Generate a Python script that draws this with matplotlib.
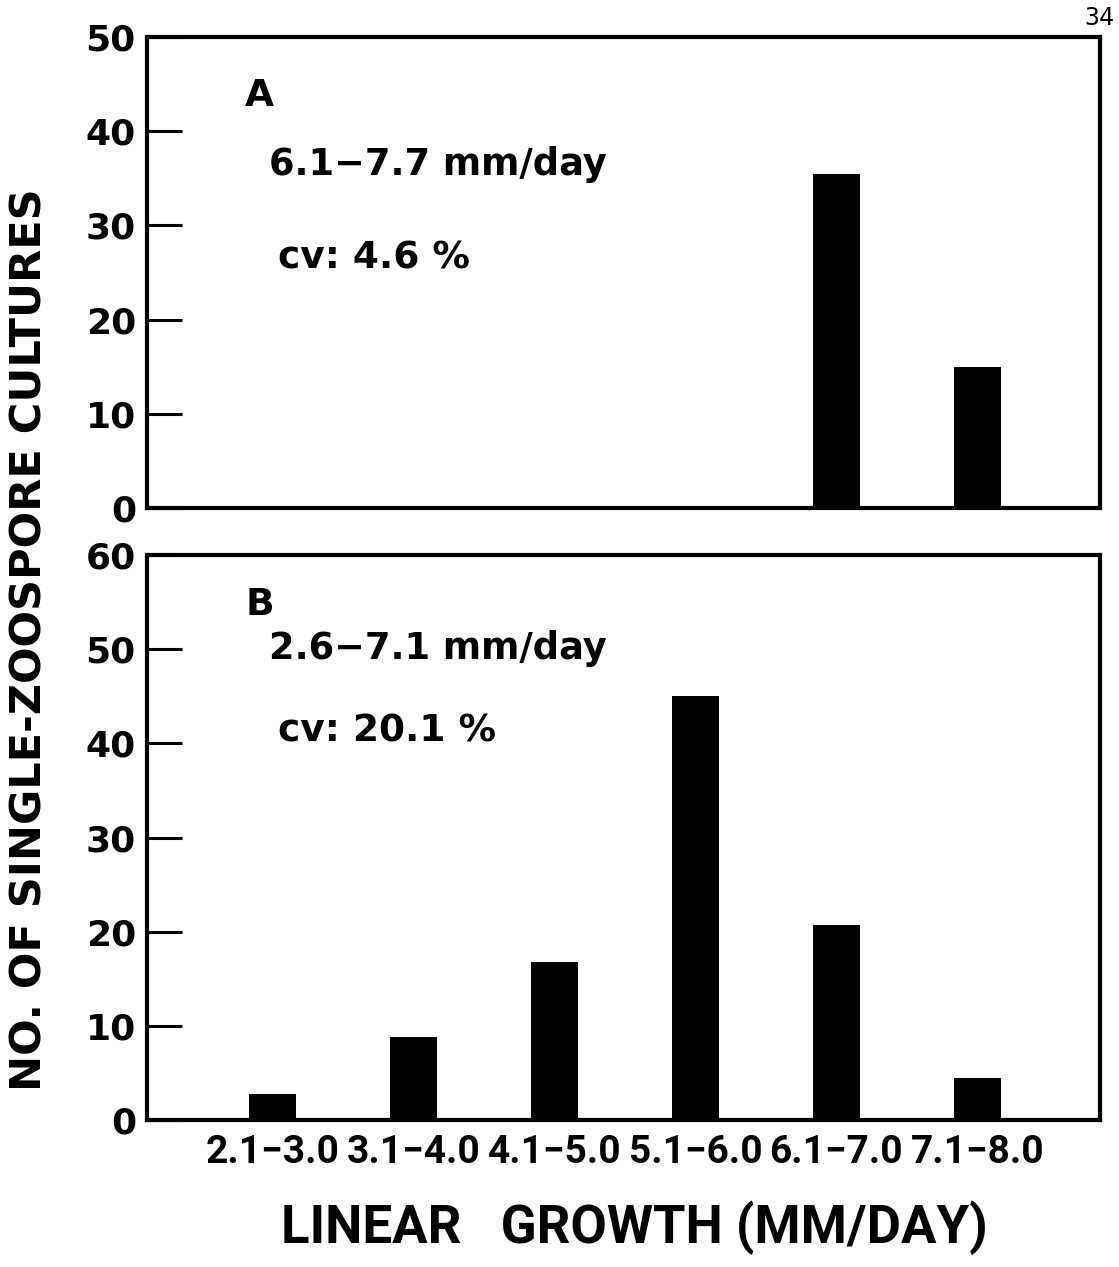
import matplotlib.pyplot as plt
import numpy as np

# growth classes (mm/day)
classes = ["2.1\u22123.0", "3.1\u22124.0", "4.1\u22125.0", "5.1\u22126.0", "6.1\u22127.0", "7.1\u22128.0"]
# panel A counts (only the two fastest classes)
counts_a = [0, 0, 0, 0, 35.5, 15]
# panel B counts
counts_b = [2.8, 8.8, 16.8, 45, 20.7, 4.5]

range_a = "6.1\u22127.7 mm/day"
cv_a = "cv: 4.6 %"
range_b = "2.6\u22127.1 mm/day"
cv_b = "cv: 20.1 %"

W, H = 1119, 1267
fig = plt.figure(figsize=(W / 100, H / 100), dpi=100)

def px_axes(left, top, right, bottom):
    return fig.add_axes([left / W, 1 - bottom / H, (right - left) / W, (bottom - top) / H])

ax_a = px_axes(147, 37, 1100, 508)
ax_b = px_axes(147, 555, 1100, 1120)

x = np.arange(len(classes))
tick_font = dict(family=["DejaVu Sans"], weight="bold", size=26)

def style(ax, ymax):
    ax.set_xlim(-0.89, 5.87)
    ax.set_ylim(0, ymax)
    ax.set_yticks(range(0, ymax + 1, 10))
    for s in ax.spines.values():
        s.set_linewidth(3)
    ax.tick_params(axis="y", direction="in", length=25, width=2.2, pad=8)
    for lab in ax.get_yticklabels():
        lab.set_fontproperties(tick_font)
    ax.tick_params(axis="x", length=0)

ax_a.bar(x, counts_a, width=0.33, color="black")
style(ax_a, 50)
ax_a.set_xticks([])

ax_b.bar(x, counts_b, width=0.33, color="black")
style(ax_b, 60)
ax_b.set_xticks(x)
ax_b.set_xticklabels(classes, fontsize=28, fontweight="bold",
                     family=["Roboto", "DejaVu Sans"])
ax_b.tick_params(axis="x", pad=10)

txt = dict(family=["DejaVu Sans"], weight="bold", color="black",
           va="center", ha="left")
ax_a.text(0.103, 0.875, "A", transform=ax_a.transAxes, fontsize=27, **txt)
ax_a.text(0.128, 0.73, range_a, transform=ax_a.transAxes, fontsize=26.5, **txt)
ax_a.text(0.137, 0.53, cv_a, transform=ax_a.transAxes, fontsize=27, **txt)
ax_b.text(0.103, 0.912, "B", transform=ax_b.transAxes, fontsize=27, **txt)
ax_b.text(0.128, 0.834, range_b, transform=ax_b.transAxes, fontsize=26.5, **txt)
ax_b.text(0.137, 0.688, cv_b, transform=ax_b.transAxes, fontsize=27, **txt)

fig.text(30 / W, 1 - 640 / H, "NO. OF SINGLE-ZOOSPORE CULTURES", rotation=90,
         ha="center", va="center", fontsize=31, fontweight="bold",
         family=["DejaVu Sans"])
fig.text(634 / W, 1 - 1228 / H, "LINEAR   GROWTH (MM/DAY)", ha="center", va="center",
         fontsize=38, fontweight="bold", family=["Roboto", "DejaVu Sans"])
fig.text(1099 / W, 1 - 18 / H, "34", ha="center", va="center", fontsize=18,
         family=["DejaVu Sans Mono"])

fig.savefig("out.png", dpi=100)
